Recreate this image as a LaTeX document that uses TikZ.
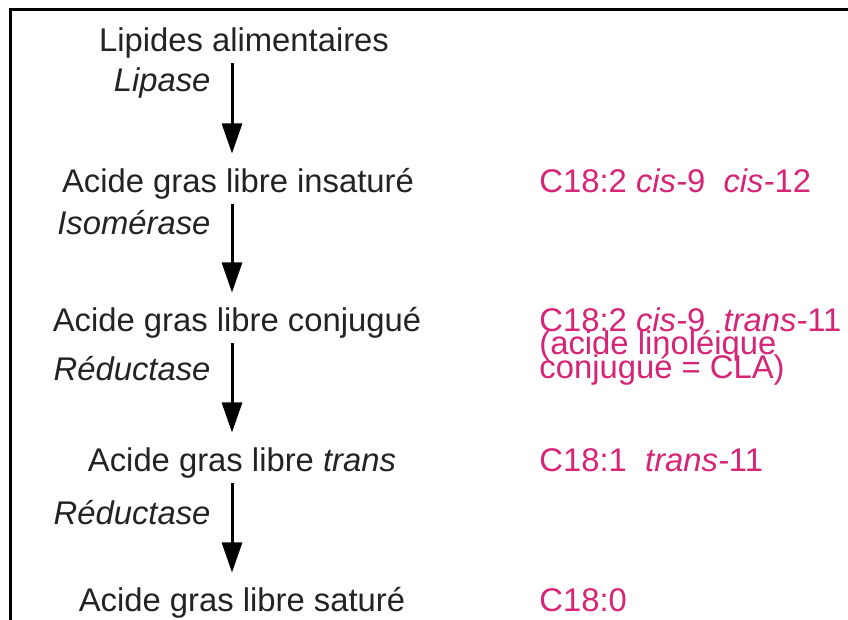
\documentclass[tikz,border=0pt]{standalone}
\usepackage{fontspec}
\setmainfont{Liberation Sans}
\usepackage{xcolor}
\usetikzlibrary{arrows.meta,positioning}

\definecolor{acidpink}{RGB}{214,36,118}
\definecolor{inkgray}{RGB}{35,35,35}

\tikzset{
  step text/.style={inner sep=0pt, text height=11.7pt, text depth=3.4pt,
    font=\fontsize{16.4}{19.7}\selectfont, text=inkgray},
  enzyme/.style={step text, font=\fontsize{16.4}{19.7}\selectfont\itshape},
  formula/.style={step text, anchor=west, text=acidpink},
  formula line/.style={formula, anchor=base west, text height=8.3pt},
  flow/.style={line width=1.5pt, -{Triangle[length=15pt,width=10pt]},
    shorten <=2.5pt, shorten >=7.5pt}
}

\begin{document}
\begin{tikzpicture}[x=0.5pt,y=-0.5pt]
        \useasboundingbox (0,0) rectangle (848,620);

        % frame (cut on the right and at the bottom)
        \draw[line width=1.5pt] (10.5,620) -- (10.5,9.5) -- (848,9.5);

        \coordinate (ax) at (232,0);
        \coordinate (rcol) at (539,0);

        % steps of the pathway
        \node[step text] (lip)  at (244,43)  {Lipides alimentaires};
        \node[step text] (ins)  at (238,184) {Acide gras libre insaturé};
        \node[step text] (conj) at (237,323) {Acide gras libre conjugué};
        \node[step text] (tra)  at (242,463) {Acide gras libre \textit{trans}};
        \node[step text] (sat)  at (242,603) {Acide gras libre saturé};

        % enzymes
        \draw[flow] (lip.south -| ax) -- (ins.north -| ax)
            node[enzyme, pos=0.225, left=10pt] (lipase) {Lipase};
        \draw[flow] (ins.south -| ax) -- (conj.north -| ax)
            node[enzyme, pos=0.25, left=10pt] (isom) {Isomérase};
        \draw[flow] (conj.south -| ax) -- (tra.north -| ax)
            node[enzyme, pos=0.31, left=10pt] (red1) {Réductase};
        \draw[flow] (tra.south -| ax) -- (sat.north -| ax)
            node[enzyme, pos=0.345, left=10pt] (red2) {Réductase};

        % fatty acid formulas
        \node[formula] (f1) at (ins -| rcol) {C18:2 \textit{cis-}9~~\textit{cis-}12};
        \node[formula] (f2) at (conj -| rcol) {C18:2 \textit{cis-}9~~\textit{trans-}11};
        \node[formula line] (f2b) at ([yshift=-11.7pt]f2.base west) {(acide linoléique};
        \node[formula line] (f2c) at ([yshift=-11.7pt]f2b.base west) {conjugué = CLA)};
        \node[formula] (f3) at (tra -| rcol) {C18:1~~\textit{trans-}11};
        \node[formula] (f4) at (sat -| rcol) {C18:0};
    \end{tikzpicture}
\end{document}
